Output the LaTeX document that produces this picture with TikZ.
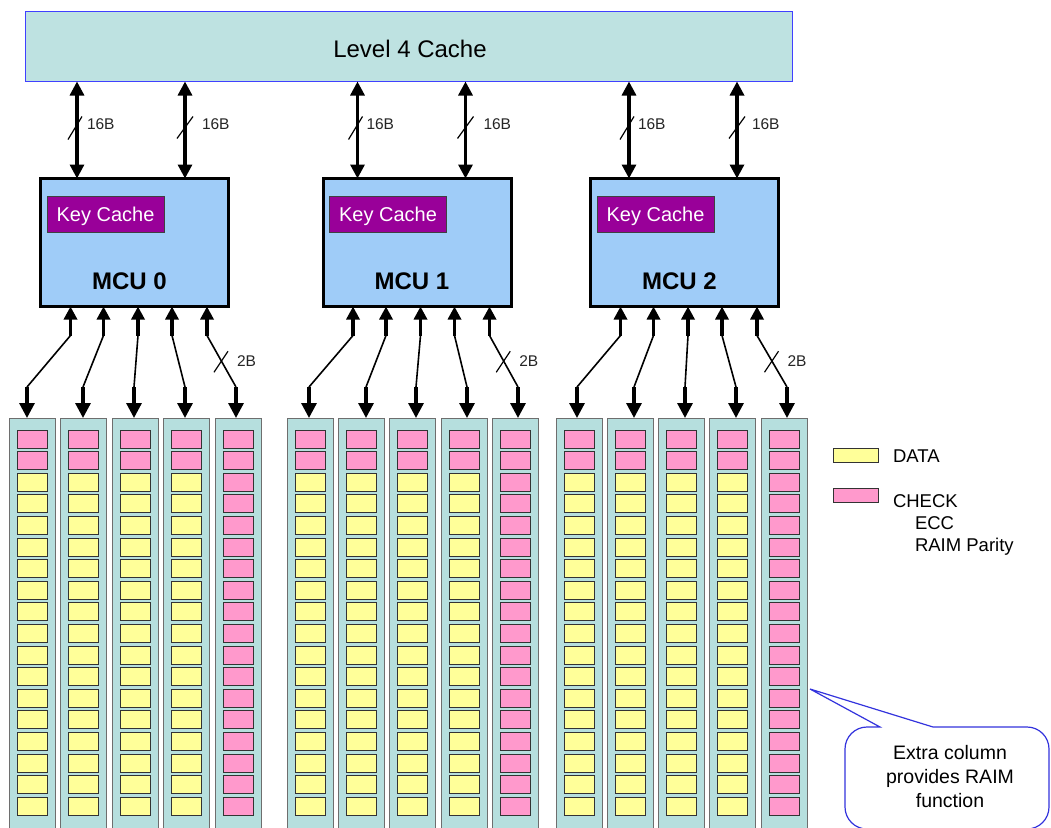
\documentclass[tikz,border=0pt]{standalone}
\usepackage{fontspec}
\setmainfont{Liberation Sans}
\usetikzlibrary{arrows.meta,calc}
\definecolor{lfour}{HTML}{BEE2E1}
\definecolor{lfourb}{HTML}{4040FF}
\definecolor{mcufill}{HTML}{9FCCF8}
\definecolor{keyfill}{HTML}{990099}
\definecolor{colfill}{HTML}{B6DFDE}
\definecolor{colb}{HTML}{6E6E6E}
\definecolor{datafill}{HTML}{FFFF99}
\definecolor{chkfill}{HTML}{FF99CC}
\definecolor{callb}{HTML}{3333DD}
\begin{document}
\begin{tikzpicture}[x=1pt,y=-1pt,
  every node/.style={inner sep=0pt,outer sep=0pt},
  l4box/.style={draw=lfourb,line width=1pt,fill=lfour,minimum width=767pt,minimum height=70pt,font=\fontsize{24}{28}\selectfont},
  mcubox/.style={draw=black,line width=3pt,fill=mcufill,minimum width=188pt,minimum height=128pt},
  keybox/.style={draw=black!75,line width=0.8pt,fill=keyfill,text=white,minimum width=117pt,minimum height=36pt,text depth=0pt,font=\fontsize{20}{24}\selectfont},
  mculabel/.style={font=\bfseries\fontsize{24}{28}\selectfont},
  bus/.style={line width=3.2pt,{Triangle[width=14pt,length=14pt]}-{Triangle[width=14pt,length=14pt]}},
  slash/.style={line width=1.2pt},
  buslabel/.style={font=\fontsize{15.5}{18}\selectfont,text=black!85,anchor=west},
  vbar/.style={line width=3.2pt},
  diag/.style={line width=1.6pt},
  colbox/.style={draw=colb,line width=1pt,fill=colfill,minimum width=46pt,minimum height=440pt,anchor=north west},
  cell/.style={draw=black!80,line width=0.8pt},
  legbox/.style={draw=black!80,line width=0.8pt,minimum width=45pt,minimum height=14pt},
  legtext/.style={font=\fontsize{18.5}{22}\selectfont,anchor=base west},
  notetext/.style={font=\fontsize{19.5}{24}\selectfont,align=center},
  callout/.style={draw=callb,line width=1.2pt,fill=white}
]
\fill[white] (0,0) rectangle (1051,827);
\clip (0,0) rectangle (1051,827);

% Level 4 cache
\node[l4box] (L4) at (409,46.5) {};
\node (L4t) at (410,48.5) {\fontsize{24}{28}\selectfont Level 4 Cache};

% MCUs
\foreach \m/\cx in {0/134.5,1/417,2/684.5} {
  \node[mcubox] (mcu\m) at (\cx,242.5) {};
  \node[keybox,anchor=north west] (key\m) at ($(mcu\m.north west)+(6.5,17.5)$) {Key Cache};
  \node[mculabel] (lab\m) at ($(mcu\m.south)+(-5,-25.5)$) {MCU \m};
}

% 16B buses
\foreach \m/\a/\b/\la/\lb in {0/36.5/144.5/10/17,1/34.5/142.5/9/18,2/38.5/146.5/9/15} {
  \coordinate (ta\m) at ($(mcu\m.north west)+(\a,0)$);
  \coordinate (tb\m) at ($(mcu\m.north west)+(\b,0)$);
  \draw[bus] (L4.south -| ta\m) -- (ta\m);
  \draw[bus] (L4.south -| tb\m) -- (tb\m);
  \draw[slash] ($(ta\m)+(-9,-39)$) -- ++(14,-23);
  \draw[slash] ($(tb\m)+(-8,-40)$) -- ++(16,-22);
  \node[buslabel] (la\m) at ($(ta\m)+(\la,-54.5)$) {16B};
  \node[buslabel] (lb\m) at ($(tb\m)+(\lb,-54.5)$) {16B};
}

% memory columns, cells and 2B buses
\foreach \m/\k/\cl/\tx/\off in {
  0/1/9/27/30, 0/2/60/83/63, 0/3/112/134/97.5, 0/4/163/185/131.5, 0/5/215/236/166.5,
  1/1/287/309/30, 1/2/338/366/63, 1/3/389/416/97.5, 1/4/441/467/131.5, 1/5/492/518/166.5,
  2/1/556/577/30, 2/2/607/634/63, 2/3/658/685/97.5, 2/4/709/736/131.5, 2/5/761/787/166.5} {
  \node[colbox] (c\m\k) at (\cl,418) {};
  \foreach \i in {0,...,17} {
    \ifnum\k=5 \def\cc{chkfill}\else\ifnum\i<2 \def\cc{chkfill}\else\def\cc{datafill}\fi\fi
    \draw[cell,fill=\cc] (\cl+8,430+21.6*\i) rectangle ++(30,18);
  }
  \coordinate (s\m\k) at ($(mcu\m.south west)+(\off,0)$);
  \draw[vbar,{Triangle[width=13pt,length=13pt]}-] (s\m\k) -- ++(0,29) coordinate (p\m\k);
  \draw[diag] (p\m\k) -- (\tx,387) coordinate (q\m\k);
  \pgfmathsetmacro\dd{\tx-\cl-23}
  \draw[vbar,-{Triangle[width=15pt,length=15pt]}] (q\m\k) -- ([xshift=\dd pt]c\m\k.north);
  \ifnum\k=5
    \coordinate (mid\m) at ($(p\m\k)!0.5!(q\m\k)$);
    \draw[slash] ($(mid\m)+(-7.5,11)$) -- ($(mid\m)+(6.5,-10)$);
    \node[buslabel] (tb2\m) at ($(mid\m)+(15.5,0)$) {2B};
  \fi
}

% legend
\node[legbox,fill=datafill] (legd) at (855.5,455) {};
\node[legtext] (legdt) at (893,462) {DATA};
\node[legbox,fill=chkfill] (legc) at (855.5,495.5) {};
\node[legtext] (legct) at (893,507) {CHECK};
\node[legtext] (lege) at (915,529) {ECC};
\node[legtext] (legr) at (915,551) {RAIM Parity};

% callout
\coordinate (tip) at ($(c25.east)+(3,51)$);
\draw[callout] (880,727) -- (tip) -- (933,727) -- (1027,727)
  arc[start angle=90,end angle=0,radius=22pt] -- (1049,807)
  arc[start angle=0,end angle=-90,radius=22pt] -- (867,829)
  arc[start angle=-90,end angle=-180,radius=22pt] -- (845,749)
  arc[start angle=180,end angle=90,radius=22pt] -- cycle;
\node[notetext] (note) at (950,777) {Extra column\\provides RAIM\\function};
\end{tikzpicture}
\end{document}
